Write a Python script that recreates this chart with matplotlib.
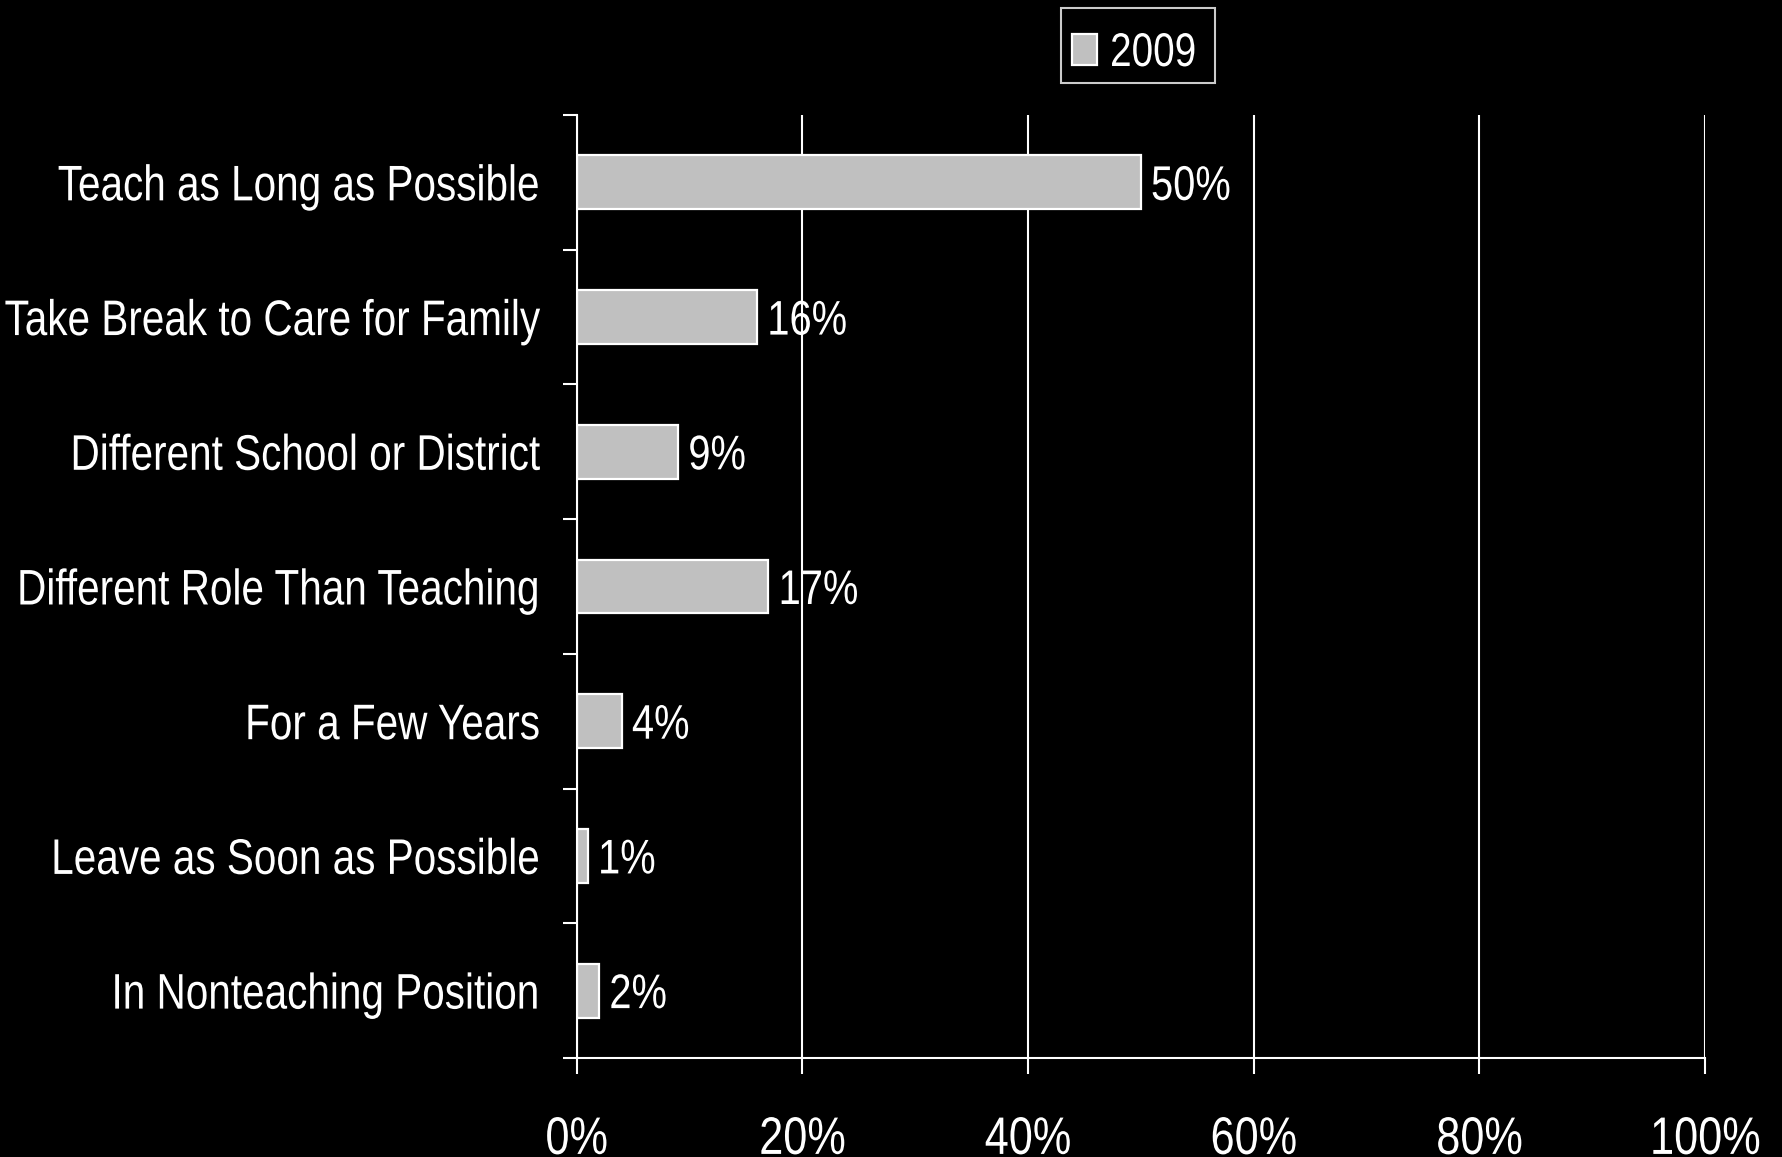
import matplotlib
matplotlib.use("Agg")
import matplotlib.pyplot as plt
import numpy as np
from matplotlib.patheffects import AbstractPathEffect
from matplotlib.transforms import Affine2D
from matplotlib.path import Path

categories = [
    "Teach as Long as Possible",
    "Take Break to Care for Family",
    "Different School or District",
    "Different Role Than Teaching",
    "For a Few Years",
    "Leave as Soon as Possible",
    "In Nonteaching Position",
]
values_2009 = [50, 16, 9, 17, 4, 1, 2]
series_name = "2009"
xticks = [0, 20, 40, 60, 80, 100]
xtick_labels = ["0%", "20%", "40%", "60%", "80%", "100%"]

plt.rcParams["font.family"] = ["Liberation Sans", "DejaVu Sans"]


class Narrow(AbstractPathEffect):
    """Draw text glyphs horizontally condensed (Arial Narrow look)."""

    def __init__(self, sx=0.8, anchor="left"):
        super().__init__()
        self.sx = sx
        self.anchor = anchor

    def draw_path(self, renderer, gc, tpath, affine, rgbFace=None):
        ext = tpath.get_extents()
        if self.anchor == "right":
            x0 = ext.x1
        elif self.anchor == "center":
            x0 = 0.5 * (ext.x0 + ext.x1)
        else:
            x0 = 0.0
        t = Affine2D().translate(-x0, 0).scale(self.sx, 1).translate(x0, 0) + affine
        renderer.draw_path(gc, tpath, t, rgbFace)


def legend_box(top=0.0, bottom=0.0, left=0.0, right=0.0):
    """Square legend frame with separate padding per side (font-size units)."""
    def style(x0, y0, width, height, mutation_size):
        m = mutation_size
        xa, xb = x0 - left * m, x0 + width + right * m
        ya, yb = y0 - bottom * m, y0 + height + top * m
        return Path([(xa, ya), (xb, ya), (xb, yb), (xa, yb), (xa, ya)], closed=True)
    return style


fig = plt.figure(figsize=(17.83, 11.57), dpi=100, facecolor="black")
ax = fig.add_axes([0.3234, 0.0856, 0.6329, 0.815], facecolor="black")

y = np.arange(len(categories))
bars = ax.barh(y, values_2009, height=0.4, color="#c0c0c0", edgecolor="white",
               linewidth=1.6, label=series_name, zorder=3)

# value labels to the right of each bar
for yi, v in zip(y, values_2009):
    ax.text(v + 0.9, yi + 0.13, f"{v}%", color="white", fontsize=35,
            va="baseline", ha="left", zorder=4,
            path_effects=[Narrow(0.82, "left")])

ax.set_xlim(0, 100)
ax.set_ylim(len(categories) - 0.5, -0.5)

ax.set_xticks(xticks)
ax.set_xticklabels(xtick_labels, fontsize=38, color="white")
ax.tick_params(axis="x", direction="out", length=11.5, width=1.5, color="white", pad=29.5)
for lbl in ax.get_xticklabels():
    lbl.set_path_effects([Narrow(0.82, "center")])

# category separators as major ticks, names as minor tick labels
ax.set_yticks(np.arange(len(categories) + 1) - 0.5)
ax.set_yticklabels([])
ax.set_yticks(y, minor=True)
ax.set_yticklabels(categories, minor=True, fontsize=36, color="white")
ax.tick_params(axis="y", which="major", direction="out", length=10, width=1.5, color="white")
ax.tick_params(axis="y", which="minor", length=0, pad=26)
for lbl in ax.get_yticklabels(minor=True):
    lbl.set_path_effects([Narrow(0.81, "right")])

ax.grid(axis="x", color="white", linewidth=1.5, zorder=1)
for side in ["top", "right"]:
    ax.spines[side].set_visible(False)
for side in ["left", "bottom"]:
    ax.spines[side].set_color("white")
    ax.spines[side].set_linewidth(1.5)
    ax.spines[side].set_zorder(5)

leg = fig.legend(handles=[bars], labels=[series_name], loc="upper left",
                 bbox_to_anchor=(0.5951, 0.98185), borderaxespad=0,
                 fontsize=34, frameon=True, fancybox=False,
                 facecolor="black", edgecolor="white",
                 handlelength=0.53, handleheight=0.64, handletextpad=0.275,
                 borderpad=0.233, labelcolor="white")
leg.get_frame().set_linewidth(1.5)
leg.get_frame().set_boxstyle(legend_box(top=0.275, bottom=-0.085, right=-0.25))
for t in leg.get_texts():
    t.set_path_effects([Narrow(0.82, "left")])

fig.savefig("out.png", dpi=100, facecolor="black")
